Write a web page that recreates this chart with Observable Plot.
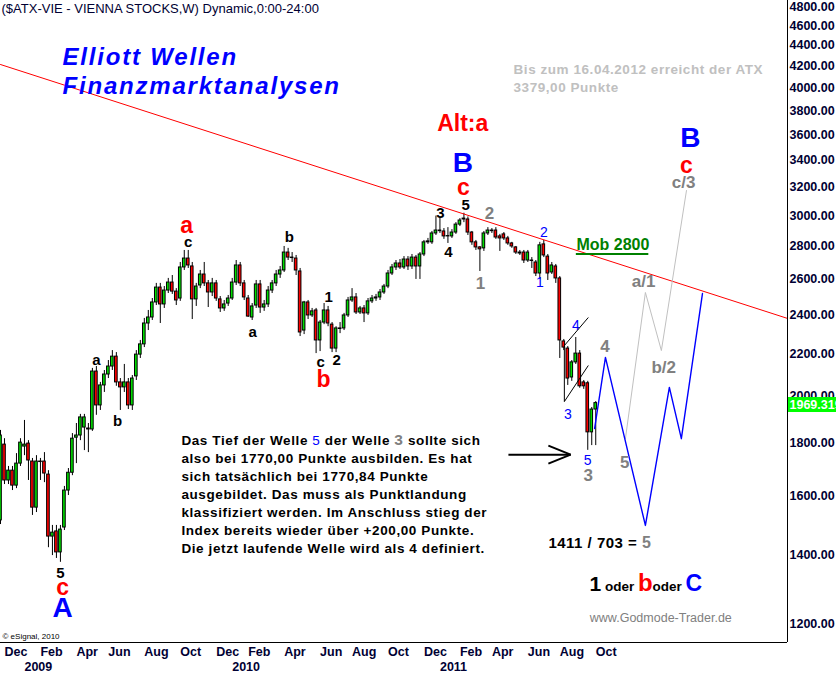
<!DOCTYPE html>
<html><head><meta charset="utf-8">
<script src="https://cdn.jsdelivr.net/npm/d3@7"></script>
<script src="https://cdn.jsdelivr.net/npm/@observablehq/plot@0.6"></script>
<style>body{margin:0;background:#fff}</style>
</head><body><div id="chart"></div>
<script>
// ---------- DATA ----------
const weekStart = "2008-11-24"; // first weekly bar
const opens = [1513,1794,1655,1692,1636,1719,1786,1798,1727,1557,
1727,1727,1677,1459,1476,1408,1489,1618,1684,1822,
1831,1864,1860,1856,2114,1959,2049,2100,2138,2186,
2063,2040,2063,1959,2091,2196,2247,2355,2387,2469,
2553,2458,2536,2582,2530,2491,2671,2725,2677,2486,
2565,2629,2577,2525,2577,2486,2436,2463,2491,2582,
2683,2577,2491,2387,2452,2571,2441,2458,2536,2577,
2629,2653,2762,2731,2725,2647,2318,2469,2398,2425,
2267,2360,2425,2349,2226,2329,2329,2398,2480,2497,
2414,2436,2409,2475,2491,2497,2525,2559,2635,2671,
2695,2671,2719,2677,2731,2677,2750,2826,2826,2883,
2902,2896,2864,2864,2889,2941,2975,2975,2889,2826,
2794,2788,2883,2902,2902,2864,2877,2851,2819,2794,
2756,2762,2713,2713,2701,2635,2813,2737,2641,2677,
2606,2262,2226,2086,2158,2201,2063,2059,1844,1941];
const highs = [1852,1818,1708,1708,1758,1818,1894,1810,1739,1750,
1739,1762,1692,1496,1496,1496,1633,1700,1839,1881,
1920,1920,1881,2129,2138,2063,2119,2167,2216,2206,
2081,2148,2081,2095,2216,2267,2382,2425,2491,2577,
2577,2559,2606,2623,2547,2701,2775,2775,2701,2577,
2653,2701,2594,2606,2594,2502,2480,2508,2606,2713,
2701,2594,2508,2463,2594,2594,2480,2559,2594,2653,
2677,2800,2788,2762,2744,2665,2475,2480,2436,2436,
2371,2463,2447,2360,2338,2360,2409,2497,2547,2519,
2447,2452,2491,2508,2514,2542,2571,2653,2689,2713,
2719,2737,2737,2750,2744,2762,2838,2851,2896,2998,
2992,2915,2921,2908,2954,2981,3017,2992,2896,2838,
2800,2896,2921,2915,2921,2877,2889,2864,2826,2800,
2775,2775,2775,2731,2713,2826,2838,2750,2701,2689,
2617,2272,2236,2167,2282,2216,2072,2068,1950,1976];
const lows = [1499,1640,1640,1618,1625,1708,1750,1655,1530,1540,
1655,1647,1423,1398,1389,1377,1479,1600,1673,1719,
1810,1770,1762,1848,1916,1937,2017,2081,2119,2045,
1937,2017,1941,1937,2072,2177,2231,2318,2371,2452,
2355,2436,2519,2514,2452,2475,2653,2665,2376,2447,
2547,2559,2441,2502,2475,2414,2420,2447,2480,2565,
2559,2480,2387,2371,2436,2409,2420,2441,2519,2559,
2606,2641,2713,2701,2623,2287,2297,2376,2387,2201,
2211,2349,2338,2206,2206,2302,2318,2387,2469,2403,
2403,2360,2398,2463,2475,2480,2514,2547,2623,2653,
2659,2659,2653,2659,2600,2600,2737,2813,2813,2870,
2883,2845,2819,2851,2877,2928,2954,2870,2807,2775,
2647,2769,2870,2883,2845,2769,2838,2807,2788,2750,
2744,2695,2701,2665,2617,2600,2731,2594,2629,2577,
2177,2216,2049,2068,2148,2036,2031,1771,1790,1790];
const closes = [1831,1655,1692,1636,1719,1802,1794,1731,1557,1727,
1725,1681,1459,1472,1408,1482,1618,1684,1818,1831,
1907,1907,1856,2114,1959,2049,2100,2138,2186,2063,
2040,2063,1959,2081,2196,2247,2355,2387,2469,2553,
2458,2536,2582,2530,2480,2671,2725,2683,2486,2559,
2629,2577,2525,2577,2491,2436,2458,2491,2582,2683,
2577,2497,2392,2447,2571,2441,2458,2536,2577,2629,
2653,2762,2731,2728,2653,2308,2469,2398,2420,2267,
2360,2425,2355,2226,2329,2326,2398,2480,2497,2414,
2436,2409,2475,2491,2497,2525,2559,2635,2671,2695,
2671,2719,2677,2731,2677,2750,2826,2832,2883,2902,
2898,2864,2866,2889,2941,2968,2981,2889,2826,2794,
2782,2883,2902,2898,2857,2851,2851,2819,2800,2762,
2762,2713,2762,2710,2635,2807,2744,2635,2683,2606,
2267,2231,2081,2158,2201,2045,2045,1844,1941,1969.319];

const xDomain = ["2008-11-24", "2012-09-03"];
const yDomain = [1150, 4866];
const yTickValues = [1200,1400,1600,1800,2000,2200,2400,2600,2800,3000,3200,3400,3600,3800,4000,4200,4400,4600,4800];

const trendLine = [["2008-11-24", 4214], ["2012-09-03", 2382]];
const bluePath = [["2011-10-01",1860],["2011-10-20",2182],["2011-12-29",1496],["2012-02-09",2040],["2012-03-01",1818],["2012-04-07",2519]];
const grayPath = [["2011-11-24",1818],["2011-12-29",2525],["2012-01-26",2216],["2012-03-10",3175]];
const arrowSegs = [["2011-05-03",1754,"2011-08-20",1754],["2011-07-12",1790,"2011-08-20",1754],["2011-07-12",1719,"2011-08-20",1754]];
const channelSegs = [["2011-08-09",2241,"2011-09-20",2387],["2011-08-09",1976,"2011-09-20",2143],["2011-08-09",2241,"2011-08-09",1976]];
const mobUnderline = [["2011-08-30","2012-01-04",2753]];

const blackLabels = [["2009-03-09",1343,"5"],["2009-05-11",2167,"a"],["2009-06-17",1890,"b"],["2009-10-19",2826,"c"],
 ["2010-02-09",2308,"a"],["2010-04-14",2857,"b"],["2010-06-22",2497,"1"],["2010-06-08",2158,"c"],["2010-07-06",2167,"2"],
 ["2011-01-04",3015,"3"],["2011-01-18",2762,"4"],["2011-02-17",3070,"5"]];
const redLabels = [["2009-03-13",1301,"c"],["2009-10-16",2935,"a"],["2010-06-13",2077,"b"],["2011-02-13",3197,"c"],
 ["2011-02-12",3691,"Alt:a"],["2012-03-10",3359,"c"]];
const blueLabels = [["2009-03-13",1244,"A"],["2011-02-12",3381,"B"],["2012-03-17",3569,"B"]];
const grayLabels = [["2011-03-15",2577,"1"],["2011-03-31",3015,"2"],["2011-09-20",1673,"3"],["2011-10-19",2236,"4"],
 ["2011-11-23",1723,"5"],["2011-12-26",2588,"a/1"],["2012-01-30",2133,"b/2"],["2012-03-05",3233,"c/3"]];
const blueSmallLabels = [["2011-06-27",2582,"1"],["2011-07-04",2889,"2"],["2011-08-15",1920,"3"],["2011-08-29",2344,"4"],["2011-09-19",1731,"5"]];

const mobLabel = [["2011-11-02",2813,"Mob 2800"]];
const grayNoteLines = ["Bis zum 16.04.2012 erreicht der ATX", "3379,00 Punkte"];
const grayNote = [["2011-05-12",4093,grayNoteLines.join("\n")]];
const paragraphLines = ["Das Tief der Welle 5 der Welle 3 sollte sich","also bei 1770,00 Punkte ausbilden. Es hat","sich tatsächlich bei 1770,84 Punkte","ausgebildet. Das muss als Punktlandung","klassifiziert werden. Im Anschluss stieg der","Index bereits wieder über +200,00 Punkte.","Die jetzt laufende Welle wird als 4 definiert."];
const paragraph = [["2009-10-07",1607,paragraphLines.join("\n")]];
const ratioNote = [["2011-07-12",1436,"1411 / 703 = 5"]];
const oderNote = [["2011-09-22",1304,"1 oder b oder C"]];
const siteNote = [["2012-01-25",1216,"www.Godmode-Trader.de"]];

const titleText = "($ATX-VIE - VIENNA STOCKS,W) Dynamic,0:00-24:00";
const logoLines = ["Elliott Wellen", "Finanzmarktanalysen"];
const copyright = "© eSignal, 2010";

// ---------- BUILD ----------
const DAY = 864e5;
const t0 = new Date(weekStart);
const candles = closes.map((c, i) => ({date: new Date(+t0 + i * 7 * DAY), open: opens[i], high: highs[i], low: lows[i], close: c}));
const pt = ([d, p, t]) => ({date: new Date(d), price: p, text: t});
const seg = ([d1, p1, d2, p2]) => ({d1: new Date(d1), p1, d2: new Date(d2), p2});
const lastClose = closes[closes.length - 1];

const monthTicks = candles.filter(d => d.date.getUTCDate() <= 7 && [11,1,3,5,7,9].includes(d.date.getUTCMonth())).map(d => d.date);
const yearTicks = candles.filter(d => d.date.getUTCDate() <= 7 && d.date.getUTCMonth() === 0).map(d => d.date);

const green = "#00dd00", red = "#ff0000";
const lbl = (arr, o) => Plot.text(arr.map(pt), {x: "date", y: "price", text: "text", ...o});

const svg = Plot.plot({
  width: 836, height: 674,
  marginLeft: 0, marginRight: 49, marginTop: 0, marginBottom: 32,
  style: {fontFamily: "'Liberation Sans', Arial, sans-serif", fontSize: "12.5px", fontWeight: "bold", color: "#000033", background: "#fff", overflow: "visible"},
  x: {type: "utc", domain: xDomain.map(d => new Date(d))},
  y: {type: "log", domain: yDomain},
  marks: [
    Plot.ruleX(candles, {x: "date", y1: "low", y2: "high", stroke: "#000", strokeWidth: 1}),
    Plot.rect(candles, {x1: d => new Date(+d.date - 2.3 * DAY), x2: d => new Date(+d.date + 2.3 * DAY), y1: "open", y2: "close",
      fill: d => d.close >= d.open ? green : red, stroke: "#000", strokeWidth: 1}),
    Plot.line(trendLine.map(pt), {x: "date", y: "price", stroke: "#ff0000", strokeWidth: 1}),
    Plot.line(grayPath.map(pt), {x: "date", y: "price", stroke: "#c0c0c0", strokeWidth: 1}),
    Plot.line(bluePath.map(pt), {x: "date", y: "price", stroke: "#0000ff", strokeWidth: 1.4}),
    Plot.link(arrowSegs.map(seg), {x1: "d1", y1: "p1", x2: "d2", y2: "p2", stroke: "#000", strokeWidth: 2}),
    Plot.link(channelSegs.map(seg), {x1: "d1", y1: "p1", x2: "d2", y2: "p2", stroke: "#000", strokeWidth: 1}),
    Plot.ruleY(mobUnderline.map(([a, b, p]) => ({a: new Date(a), b: new Date(b), p})), {x1: "a", x2: "b", y: "p", stroke: "#008000", strokeWidth: 2}),

    lbl(blackLabels, {fill: "#000", fontSize: 15, fontWeight: "bold"}),
    lbl(redLabels, {fill: "#ff0000", fontSize: 23, fontWeight: "bold"}),
    lbl(blueLabels, {fill: "#0000ff", fontSize: 28, fontWeight: "bold"}),
    lbl(grayLabels, {fill: "#808080", fontSize: 17, fontWeight: "bold"}),
    lbl(blueSmallLabels, {fill: "#0000ff", fontSize: 14, fontWeight: "normal"}),
    lbl(mobLabel, {fill: "#008000", fontSize: 16, fontWeight: "bold"}),
    lbl(grayNote, {fill: "#c0c0c0", fontSize: 13.5, fontWeight: "bold", textAnchor: "start", lineHeight: 1.33}),
    lbl(paragraph, {fill: "#000", fontSize: 13.5, fontWeight: "bold", textAnchor: "start", lineHeight: 1.335}),
    lbl(ratioNote, {fill: "#000", fontSize: 15, fontWeight: "bold", textAnchor: "start"}),
    lbl(oderNote, {fill: "#000", fontSize: 13.5, fontWeight: "bold", textAnchor: "start"}),
    lbl(siteNote, {fill: "#808080", fontSize: 12.5, fontWeight: "normal"}),

    Plot.text([titleText], {text: d => d, frameAnchor: "top-left", dx: 1, dy: 3, lineAnchor: "top", textAnchor: "start", fontSize: 13, fontWeight: "normal", fill: "#000033"}),
    Plot.text([logoLines[0]], {text: d => d, frameAnchor: "top-left", dx: 62, dy: 47, lineAnchor: "top", textAnchor: "start", fontSize: 24, fontWeight: "bold", fontStyle: "italic", fill: "#0000ff"}),
    Plot.text([logoLines[1]], {text: d => d, frameAnchor: "top-left", dx: 62, dy: 76, lineAnchor: "top", textAnchor: "start", fontSize: 24, fontWeight: "bold", fontStyle: "italic", fill: "#0000ff"}),
    Plot.text([copyright], {text: d => d, frameAnchor: "bottom-left", dx: 2, dy: -9.5, lineAnchor: "top", textAnchor: "start", fontSize: 8, fontWeight: "normal", fill: "#000"}),

    Plot.ruleX([new Date(xDomain[1])], {stroke: "#000"}),
    Plot.ruleY([yDomain[0]], {stroke: "#000"}),
    Plot.axisY({anchor: "right", ticks: yTickValues, tickFormat: d3.format(".2f"), tickSize: 0, tickPadding: 2, textAnchor: "start"}),
    Plot.axisX({ticks: monthTicks, tickFormat: d3.utcFormat("%b"), tickSize: 0, tickPadding: 4.5, textAnchor: "start"}),
    Plot.axisX({ticks: yearTicks, tickFormat: d3.utcFormat("%Y"), tickSize: 0, tickPadding: 19.5, textAnchor: "start"}),

    Plot.ruleY([lastClose], {stroke: "#00ff00", strokeWidth: 15, insetLeft: 788, insetRight: -49, dy: 1.5}),
    Plot.text([lastClose], {y: d => d, text: d => d3.format(".3f")(d), frameAnchor: "right", dx: 2, dy: 1.5, textAnchor: "start", fill: "#fff", fontSize: 12.5, fontWeight: "bold"})
  ]
});

// rich text pieces (coloured digits inside sentences) and letter spacing
const rich = {
  "Das Tief der Welle 5 der Welle 3 sollte sich": [["Das Tief der Welle "], ["5", {fill: "#0000ff", "font-weight": "normal"}], [" der Welle "], ["3", {fill: "#808080", "font-size": "15.5px"}], [" sollte sich"]],
  "1411 / 703 = 5": [["1411 / 703 = "], ["5", {fill: "#808080", "font-size": "16px"}]],
  "1 oder b oder C": [["1", {"font-size": "21px"}], [" oder "], ["b", {"font-size": "24px", fill: "#ff0000"}], ["oder "], ["C", {"font-size": "23px", fill: "#0000ff"}]]
};
const spacing = new Map([
  ...logoLines.map(s => [s, "1.8px"]),
  ...paragraphLines.map(s => [s, "0.6px"]),
  ...grayNoteLines.map(s => [s, "0.55px"]),
  ["1411 / 703 = 5", "0.5px"]
]);
svg.querySelectorAll("text, tspan").forEach(el => {
  if (el.children.length !== 0) return;
  const content = el.textContent;
  if (spacing.has(content)) el.style.letterSpacing = spacing.get(content);
  if (rich[content]) {
    el.textContent = "";
    for (const [s, attrs = {}] of rich[content]) {
      const t = document.createElementNS("http://www.w3.org/2000/svg", "tspan");
      t.textContent = s;
      for (const k in attrs) t.setAttribute(k, attrs[k]);
      el.appendChild(t);
    }
  }
});

document.getElementById("chart").appendChild(svg);
</script>
</body></html>
